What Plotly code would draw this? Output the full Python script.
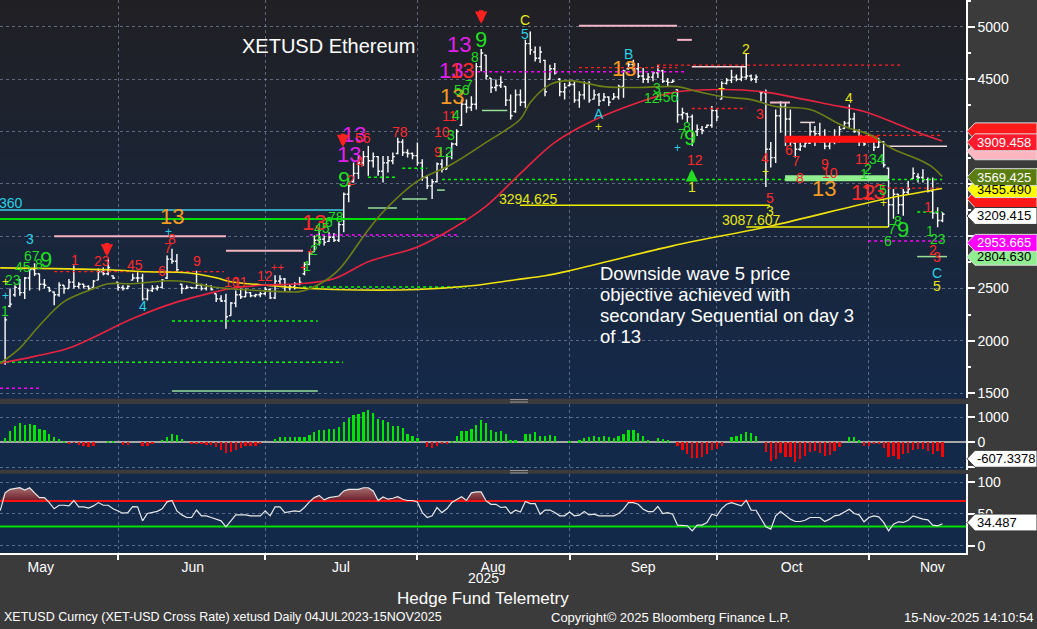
import pandas as pd
import plotly.graph_objects as go

W, H = 1037, 629

# ---------------- data ----------------
bar_dates = pd.date_range("2025-05-08", "2025-11-15", freq="D")

opens = [
    1810, 2330, 2440, 2500, 2460, 2600, 2680, 2640, 2540, 2510, 2466, 2440, 2530, 2500, 2560, 2520, 2540, 2520, 2510, 2580, 2660, 2640, 2620, 2560,
    2510, 2500, 2580, 2600, 2600, 2400, 2480, 2500, 2510, 2600, 2780, 2760, 2540, 2500, 2510, 2505, 2530, 2500, 2520, 2450, 2400, 2380, 2240, 2360, 2440, 2420, 2460, 2430, 2440, 2450,
    2490, 2410, 2570, 2590, 2510, 2515, 2545, 2640, 2730, 2850, 2960, 2970, 2950, 2990, 2960, 3110, 3400, 3520, 3600, 3700, 3760, 3720, 3760, 3620, 3700, 3720, 3790, 3900, 3800, 3790, 3770,
    3700, 3560, 3480, 3520, 3690, 3640, 3760, 3880, 4060, 4260, 4230, 4260, 4620, 4730, 4510, 4420, 4440, 4430, 4300, 4190, 4350, 4280, 4840, 4760, 4700, 4680, 4500, 4600, 4500, 4380, 4440,
    4450, 4300, 4350, 4460, 4310, 4350, 4300, 4330, 4310, 4330, 4430, 4600, 4640, 4600, 4530, 4500, 4520, 4560, 4580, 4480, 4470, 4400, 4160, 4170, 4140, 4000, 4020, 4040, 4060, 4200,
    4310, 4460, 4490, 4520, 4500, 4520, 4530, 4500, 4380, 4370, 3830, 3750, 4150, 4240, 4120, 3890, 3830, 3860, 3890, 4000, 3980, 3900, 3860, 3900, 3950, 4030, 4080, 4120, 4000, 3900, 3900,
    3930, 3850, 3900, 3650, 3300, 3400, 3300, 3420, 3550, 3570, 3560, 3540, 3430, 3220, 3150,
]
highs = [
    2230, 2500, 2530, 2590, 2610, 2700, 2740, 2640, 2590, 2515, 2470, 2560, 2530, 2590, 2720, 2560, 2545, 2530, 2580, 2690, 2700, 2780, 2625, 2560,
    2530, 2530, 2640, 2655, 2640, 2500, 2530, 2530, 2590, 2815, 2880, 2830, 2545, 2530, 2515, 2670, 2545, 2545, 2530, 2450, 2435, 2450, 2370, 2480, 2500, 2500, 2465, 2450, 2465, 2515,
    2500, 2626, 2626, 2600, 2540, 2560, 2610, 2753, 2848, 3006, 3070, 3006, 3038, 3030, 3133, 3418, 3529, 3703, 3767, 3814, 3862, 3799, 3767, 3767, 3767, 3799, 3941, 3925, 3830, 3799, 3894,
    3735, 3577, 3545, 3703, 3735, 3783, 3894, 4021, 4306, 4306, 4338, 4655, 4788, 4734, 4512, 4496, 4528, 4433, 4353, 4401, 4401, 4876, 4956, 4813, 4813, 4686, 4639, 4655, 4512, 4464, 4480,
    4480, 4385, 4480, 4480, 4401, 4369, 4369, 4338, 4369, 4448, 4591, 4670, 4686, 4655, 4607, 4560, 4575, 4639, 4591, 4512, 4496, 4401, 4227, 4179, 4163, 4068, 4052, 4068, 4243, 4211,
    4480, 4512, 4591, 4544, 4623, 4750, 4544, 4544, 4385, 4401, 3900, 4211, 4290, 4274, 4211, 3894, 3894, 3925, 4084, 4052, 4084, 4021, 3941, 4021, 4052, 4100, 4258, 4179, 4021, 3957, 3973,
    3957, 3941, 3910, 3656, 3450, 3402, 3450, 3529, 3656, 3600, 3640, 3561, 3561, 3276, 3228,
]
lows = [
    1770, 2320, 2420, 2430, 2400, 2480, 2620, 2480, 2500, 2466, 2340, 2420, 2450, 2500, 2500, 2500, 2500, 2480, 2510, 2580, 2625, 2625, 2590, 2480,
    2480, 2495, 2575, 2560, 2385, 2385, 2465, 2480, 2500, 2590, 2735, 2655, 2450, 2495, 2495, 2495, 2480, 2480, 2480, 2370, 2370, 2115, 2240, 2320, 2400, 2415, 2415, 2415, 2415, 2436,
    2400, 2400, 2540, 2470, 2480, 2490, 2531, 2626, 2721, 2848, 2911, 2911, 2943, 2943, 2943, 3038, 3323, 3513, 3545, 3672, 3577, 3656, 3577, 3513, 3609, 3688, 3783, 3767, 3751, 3735, 3672,
    3529, 3450, 3355, 3513, 3609, 3640, 3735, 3862, 4052, 4179, 4195, 4211, 4575, 4496, 4369, 4385, 4417, 4243, 4116, 4179, 4243, 4227, 4734, 4670, 4655, 4338, 4496, 4544, 4338, 4306, 4433,
    4274, 4227, 4306, 4274, 4306, 4243, 4290, 4243, 4306, 4306, 4322, 4591, 4575, 4512, 4464, 4464, 4480, 4512, 4464, 4433, 4464, 4084, 4116, 4084, 3862, 3957, 3973, 4036, 4036, 4100,
    4306, 4449, 4464, 4480, 4480, 4496, 4480, 4464, 4290, 3470, 3656, 3700, 3989, 3862, 3862, 3751, 3814, 3846, 3880, 3862, 3894, 3830, 3830, 3878, 3894, 4021, 4036, 3989, 3862, 3862, 3894,
    3814, 3846, 3656, 3085, 3165, 3212, 3196, 3402, 3545, 3513, 3513, 3418, 3165, 3085, 3133,
]
closes = [
    2200, 2350, 2510, 2460, 2600, 2680, 2640, 2540, 2530, 2480, 2440, 2530, 2500, 2560, 2520, 2540, 2520, 2500, 2570, 2660, 2640, 2700, 2600, 2510,
    2500, 2520, 2600, 2600, 2400, 2480, 2500, 2510, 2580, 2780, 2760, 2680, 2500, 2510, 2505, 2530, 2500, 2520, 2490, 2400, 2380, 2230, 2360, 2440, 2420, 2460, 2430, 2440, 2450, 2490,
    2410, 2570, 2590, 2510, 2515, 2545, 2560, 2730, 2830, 2960, 2970, 2940, 2990, 2960, 3110, 3400, 3480, 3600, 3700, 3760, 3720, 3760, 3620, 3700, 3720, 3760, 3900, 3800, 3790, 3770, 3700,
    3560, 3480, 3520, 3690, 3640, 3760, 3880, 4000, 4260, 4230, 4260, 4620, 4750, 4530, 4420, 4440, 4470, 4300, 4150, 4350, 4280, 4840, 4780, 4700, 4760, 4380, 4600, 4560, 4380, 4420, 4450,
    4300, 4350, 4460, 4300, 4350, 4290, 4330, 4280, 4330, 4430, 4580, 4640, 4600, 4530, 4500, 4520, 4560, 4580, 4480, 4470, 4480, 4160, 4180, 4140, 3900, 4020, 4010, 4060, 4200, 4140,
    4460, 4490, 4520, 4500, 4520, 4530, 4500, 4520, 4370, 3830, 3750, 4150, 4240, 4120, 3900, 3830, 3860, 3890, 4000, 3980, 3900, 3860, 3900, 3950, 4020, 4080, 4120, 4000, 3900, 3880, 3930,
    3850, 3900, 3680, 3300, 3400, 3300, 3420, 3450, 3600, 3560, 3540, 3430, 3220, 3150, 3209.415,
]

momentum = [
    173, 453, 653, 773, 707, 733, 680, 533, 480, 333, 187, 133, 53, -40, -20, -107, -147, -187, -147, 0,
    0, 53, 53, 0, -107, -107, 0, 0, -147, -147, -93, 0, 93, 213, 333, 280, 133, 0, -93, -53,
    -80, -107, -133, -213, -320, -453, -413, -307, -227, -173, -147, -147, -93, 0, 0, 107, 187, 187, 187, 187,
    187, 187, 293, 387, 493, 507, 533, 533, 613, 813, 987, 1080, 1133, 1213, 1293, 1187, 947, 907, 813, 653,
    653, 560, 333, 253, 173, 0, -200, -240, -147, -80, -53, 40, 227, 453, 453,
    533, 707, 907, 773, 507, 400, 427, 307, 67, 67, 0, 307, 333, 413, 240, 240, 267, 240, 0, 0,
    53, 0, 67, 173, 200, 240, 200, 240, 187, 147, 240, 333, 507, 507, 373, 240, 67, 0, 160, 107,
    67, 0, -173, -320, -493, -627, -627, -600, -493, -333, -293, -173, 0, 200, 240, 307, 413, 373, 227, 0,
    -387, -760, -693, -427, -600, -600, -800, -693, -560, -387, -360, -427, -560, -520, -360, -187, 0, 187, 187, 67,
    -173, -160, -80, -93, -253, -600, -560, -693, -493, -453, -320, -293, -293, -360, -493, -360, -607.3378,
]

osc_dates = pd.date_range("2025-05-07", "2025-11-15", freq="D")
oscillator = [
    55,
    83, 88.5, 90, 91, 87.5, 91, 83, 75.5, 75.5, 67.7, 58, 63.5, 63.5, 62.5, 71, 61, 61, 59, 62.5, 67.7,
    63.5, 63.5, 58, 54.7, 51, 52, 61.5, 61, 39, 50.5, 52, 54, 58, 68.8, 71, 54.7, 48.4, 44.3, 44.3, 56,
    46.9, 46.9, 44.3, 41.7, 39, 29.7, 39, 48.4, 48.4, 48.4, 46.9, 46.9, 46.9, 54.7, 46.9, 61, 61, 52, 53, 54.7,
    53.6, 60, 68.8, 75.5, 79, 72, 75.5, 76.6, 78, 86, 88.5, 88.5, 88.5, 91, 91, 86, 71, 76.6, 73, 74.5,
    77, 73, 71, 71, 68.8, 52, 44.3, 46.9, 60, 52, 58, 67.7, 73, 77, 71,
    83, 84.4, 84.4, 70.3, 65, 65, 60, 61, 50.5, 55.7, 53, 69.3, 66, 66, 49.5, 56, 56, 52, 46.9, 46.9,
    53, 46.9, 48, 53.6, 48.4, 49.5, 46.9, 46.9, 46.9, 46.9, 50.5, 57.3, 67.7, 67.7, 65, 57.3, 53.6, 53.6, 61.5, 50.5,
    52, 49.5, 32.3, 32.3, 31.3, 23.4, 32.3, 32.3, 36.5, 49.5, 46.9, 58.3, 65, 67.7, 65, 62.5, 71.4, 56, 55.7, 41.7,
    29.7, 26, 46.9, 53.6, 46.9, 41.7, 38, 38, 40, 44.3, 44.3, 44.3, 38, 41.7, 46.9, 48.4, 53, 57.3, 50.5, 48.4,
    37.5, 44.3, 46.9, 45.3, 36.5, 23.4, 33.9, 37.5, 36.5, 40, 46.9, 44.3, 41.7, 40.6, 32.3, 31.3, 34.487,
]
osc_upper, osc_lower = 70, 30

ma_short_dates = ["2025-05-08", "2025-05-12", "2025-05-16", "2025-05-21", "2025-05-27", "2025-05-30", "2025-06-04",
                  "2025-06-11", "2025-06-15", "2025-06-20", "2025-06-24", "2025-06-30", "2025-07-05", "2025-07-08",
                  "2025-07-12", "2025-07-16", "2025-07-21 16:00", "2025-07-25", "2025-08-01", "2025-08-08", "2025-08-15",
                  "2025-08-22", "2025-08-24", "2025-08-28", "2025-09-01", "2025-09-08", "2025-09-15", "2025-09-23",
                  "2025-09-27", "2025-10-02", "2025-10-08", "2025-10-13", "2025-10-20", "2025-10-27", "2025-11-01",
                  "2025-11-06", "2025-11-11", "2025-11-14", "2025-11-15 22:00"]
ma_short_vals = [1785, 1930, 2146, 2374, 2498, 2545, 2545, 2574, 2564, 2516, 2497, 2479, 2469, 2470, 2540, 2680,
                 3040, 3230, 3525, 3687, 3896, 4120, 4277, 4448, 4486, 4429, 4420, 4429, 4382, 4334, 4305, 4239,
                 4210, 4049, 3973, 3830, 3735, 3658, 3569.425]

ma_mid_dates = ["2025-05-08", "2025-05-15", "2025-05-22", "2025-06-04", "2025-06-12", "2025-06-21", "2025-06-24",
                "2025-06-30", "2025-07-08", "2025-07-15", "2025-07-22", "2025-08-01", "2025-08-08", "2025-08-15",
                "2025-08-22", "2025-08-29", "2025-09-05", "2025-09-15", "2025-09-22", "2025-10-02", "2025-10-10",
                "2025-10-17", "2025-10-24", "2025-10-31", "2025-11-06", "2025-11-11", "2025-11-15 22:00"]
ma_mid_vals = [1785, 1851, 1930, 2212, 2355, 2469, 2500, 2530, 2545, 2593, 2755, 2897, 3068, 3287, 3600, 3896,
               4087, 4277, 4372, 4401, 4382, 4324, 4258, 4191, 4087, 3991, 3909.458]

ma_long_dates = ["2025-05-08", "2025-05-30", "2025-06-07", "2025-06-15", "2025-06-21", "2025-06-24", "2025-06-30",
                 "2025-07-10", "2025-07-20", "2025-08-01", "2025-08-12", "2025-08-21", "2025-08-27", "2025-09-01",
                 "2025-09-22", "2025-10-12", "2025-10-29", "2025-11-05", "2025-11-15 22:00"]
ma_long_vals = [2697, 2678, 2659, 2650, 2602, 2564, 2536, 2500, 2485, 2490, 2526, 2583, 2621, 2669, 2907, 3097,
                3288, 3363, 3455.49]

# horizontal levels: price, start, end, kind
levels = [
    (3250, "2025-05-07 23:00", "2025-07-16 20:00", "cyan"),
    (3164, "2025-05-07 23:00", "2025-08-10 22:00", "green"),
    (2998, "2025-05-19", "2025-06-23", "pink"),
    (2860, "2025-06-23", "2025-07-08 17:00", "pink"),
    (2660, "2025-05-19", "2025-06-22 14:00", "red_dash"),
    (2189, "2025-06-12", "2025-07-11 17:00", "green_dash"),
    (1795, "2025-05-07 23:00", "2025-07-16 20:00", "green_dash"),
    (1547, "2025-05-07 23:00", "2025-05-16 12:00", "magenta_dash"),
    (1519, "2025-06-12", "2025-07-11 17:00", "pale_green"),
    (3012, "2025-07-10 02:00", "2025-08-09 12:00", "magenta_dash"),
    (2513, "2025-07-08 17:00", "2025-08-11", "green_dash"),
    (3542, "2025-08-06", "2025-11-15 22:00", "green_dash"),
    (3355, "2025-07-28 22:00", "2025-08-03", "pale_green"),
    (3269, "2025-07-21 22:00", "2025-07-27 20:00", "pale_green"),
    (3440, "2025-08-05", "2025-08-06 14:00", "pale_green"),
    (4201, "2025-08-14 04:00", "2025-08-19 08:00", "pale_green"),
    (3564, "2025-07-21 22:00", "2025-07-27 20:00", "green_dash"),
    (3650, "2025-07-28 22:00", "2025-08-03", "green_dash"),
    (3294.625, "2025-08-21 22:00", "2025-10-11 20:00", "yellow"),
    (3087.607, "2025-10-07", "2025-11-04 22:00", "yellow"),
    (5010, "2025-09-02 22:00", "2025-09-22 22:00", "pink"),
    (4876, "2025-09-22 22:00", "2025-09-25 22:00", "pink"),
    (4610, "2025-09-02 22:00", "2025-09-22 22:00", "red_dash"),
    (4634, "2025-09-18 20:00", "2025-11-07 22:00", "red_dash"),
    (4220, "2025-09-25 22:00", "2025-10-07", "red_dash"),
    (4572, "2025-08-09 12:00", "2025-09-24 22:00", "magenta_dash"),
    (4620, "2025-09-25 22:00", "2025-10-07", "pale_pink"),
    (4277, "2025-10-11 20:00", "2025-10-15 22:00", "pink"),
    (4087, "2025-10-18", "2025-10-21", "pale_pink"),
    (3858, "2025-11-04 16:00", "2025-11-16 22:00", "pale_pink"),
    (3925, "2025-10-14 22:00", "2025-11-02 20:00", "red_thick"),
    (3554, "2025-10-14 22:00", "2025-11-04 22:00", "green_thick"),
    (3963, "2025-10-30", "2025-11-15 22:00", "red_dash"),
    (3459, "2025-11-04 22:00", "2025-11-15 22:00", "red_dash"),
    (3231, "2025-11-10 20:00", "2025-11-15 22:00", "green_dash"),
    (2953.665, "2025-10-31 20:00", "2025-11-15 22:00", "magenta_dash"),
    (2804.630, "2025-11-10 20:00", "2025-11-16 22:00", "pale_green"),
]

# sequential count labels: date, price, text, kind
count_labels = [
    ("2025-05-09", 2280, "1", "g"), ("2025-05-09", 2560, "+", "y+"), ("2025-05-09", 2432, "+", "c+"),
    ("2025-05-10 14:00", 2584, "23", "g"), ("2025-05-12 14:00", 2708, "45", "g"),
    ("2025-05-14 12:00", 2810, "67", "g"), ("2025-05-16", 2735, "8", "g"), ("2025-05-17 06:00", 2774, "9", "G"),
    ("2025-05-14", 2974, "3", "c"), ("2025-05-23 06:00", 2774, "1", "r"), ("2025-05-28 18:00", 2765, "23", "r"),
    ("2025-06-04 12:00", 2727, "45", "r"), ("2025-06-06", 2337, "4", "c"), ("2025-06-10", 2670, "6", "r"),
    ("2025-06-11 06:00", 2890, "7", "r"), ("2025-06-12", 2970, "8", "r"), ("2025-06-11 06:00", 3035, "+", "c+"),
    ("2025-06-12", 3185, "13", "O"), ("2025-06-17", 2760, "9", "r"),
    ("2025-06-24 06:00", 2565, "10", "r"), ("2025-06-26", 2565, "11", "r"), ("2025-07-01", 2622, "12", "r"),
    ("2025-07-03 14:00", 2705, "++", "r+"), ("2025-07-08 16:00", 2705, "+", "r+"), ("2025-07-09 14:00", 2715, "1", "g"),
    ("2025-07-10 04:00", 2860, "+", "r+"), ("2025-07-10 20:00", 2870, "2", "g"), ("2025-07-11 20:00", 2960, "3", "g"),
    ("2025-07-11", 3130, "13", "R"), ("2025-07-12 12:00", 3080, "45", "g"), ("2025-07-14", 3136, "6", "g"),
    ("2025-07-15 12:00", 3180, "78", "g"), ("2025-07-17", 3545, "9", "G"), ("2025-07-18 12:00", 3540, "2", "r"),
    ("2025-07-18", 3783, "13", "M"), ("2025-07-19", 3975, "13", "M"), ("2025-07-20 06:00", 3706, "4", "r"),
    ("2025-07-21", 3935, "56", "r"), ("2025-07-28 12:00", 3992, "78", "r"),
    ("2025-08-05 04:00", 3802, "9", "r"), ("2025-08-06 14:00", 3800, "12", "g"), ("2025-08-06", 3992, "10", "r"),
    ("2025-08-07 18:00", 3963, "3", "g"), ("2025-08-07 12:00", 4150, "11", "r"), ("2025-08-08 20:00", 4160, "4", "g"),
    ("2025-08-08", 4334, "13", "O"), ("2025-08-10", 4401, "56", "g"), ("2025-08-11 14:00", 4448, "7", "g"),
    ("2025-08-07 18:00", 4581, "13", "M"), ("2025-08-10", 4581, "13", "R"), ("2025-08-09 12:00", 4829, "13", "M"),
    ("2025-08-12 20:00", 4715, "8", "g"), ("2025-08-14", 4876, "9", "G"),
    ("2025-08-22 22:00", 5067, "C", "y"), ("2025-08-22 22:00", 4933, "5", "c"),
    ("2025-09-12 22:00", 4740, "B", "c"), ("2025-09-12", 4600, "13", "O"),
    ("2025-09-07", 4163, "A", "c"), ("2025-09-07", 4040, "+", "y+"),
    ("2025-09-17 18:00", 4325, "12", "g"), ("2025-09-18 18:00", 4420, "3", "g"), ("2025-09-20 22:00", 4334, "456", "g"),
    ("2025-09-24", 3973, "7", "g"), ("2025-09-24 22:00", 4045, "8", "g"), ("2025-09-25 12:00", 3944, "9", "G"),
    ("2025-09-22 22:00", 3840, "+", "c+"), ("2025-09-26 14:00", 3726, "12", "r"), ("2025-09-25 22:00", 3469, "1", "y"),
    ("2025-10-02", 4410, "+", "y+"), ("2025-10-07", 4791, "2", "y"), ("2025-10-09 20:00", 4163, "3", "r"),
    ("2025-10-10 20:00", 3745, "4", "r"), ("2025-10-10 20:00", 3611, "+", "y+"), ("2025-10-11 20:00", 3364, "5", "r"),
    ("2025-10-11 20:00", 3240, "3", "y"), ("2025-10-15 18:00", 3821, "6", "r"), ("2025-10-17 02:00", 3716, "7", "r"),
    ("2025-10-18", 3554, "8", "r"), ("2025-10-23", 3687, "9", "r"), ("2025-10-24", 3602, "10", "r"),
    ("2025-10-22 20:00", 3459, "13", "O"), ("2025-10-27 22:00", 4320, "4", "y"), ("2025-10-30 18:00", 3735, "11", "r"),
    ("2025-10-31", 3592, "1", "g"), ("2025-10-31 20:00", 3640, "2", "g"), ("2025-11-02 14:00", 3735, "34", "g"),
    ("2025-10-30 18:00", 3421, "12", "R"), ("2025-11-01 18:00", 3431, "13", "R"),
    ("2025-11-03 22:00", 3440, "5", "g"), ("2025-11-03 22:00", 3317, "+", "y+"), ("2025-11-04 22:00", 2955, "6", "g"),
    ("2025-11-05 18:00", 3069, "7", "g"), ("2025-11-06 22:00", 3145, "8", "g"), ("2025-11-07 22:00", 3060, "9", "G"),
    ("2025-11-13", 3279, "1", "r"), ("2025-11-13 12:00", 3050, "1", "g"), ("2025-11-15", 2975, "23", "g"),
    ("2025-11-14 02:00", 2870, "2", "r"), ("2025-11-14 22:00", 2803, "3", "r"),
    ("2025-11-14 22:00", 2651, "C", "c"), ("2025-11-14 22:00", 2528, "5", "y"),
]

# signal arrows: date, tip price, direction
signal_arrows = [
    ("2025-05-29 18:00", 2805, "down"),
    ("2025-07-16 20:00", 3850, "down"),
    ("2025-08-14", 5030, "down"),
    ("2025-09-25 22:00", 3640, "up"),
]

# right-hand value tags: text, centre pixel row, fill, text colour (back to front)
value_tags = [
    ("", 132, "#ff1a1a", "#ffffff"),
    ("", 152, "#ffb6c1", "#000000"),
    ("3909.458", 143, "#ff1a2e", "#ffffff"),
    ("", 200, "#ff1a1a", "#ffffff"),
    ("3455.490", 190, "#ffff00", "#000000"),
    ("3569.425", 178, "#5b7d0f", "#ffffff"),
    ("3209.415", 217, "#ffffff", "#000000"),
    ("2804.630", 258, "#90ee90", "#000000"),
    ("2953.665", 244, "#ff00ff", "#ffffff"),
    ("-607.3378", 461, "#ffffff", "#000000"),
    ("34.487", 525, "#ffffff", "#000000"),
]

note_lines = ["Downside wave 5 price", "objective achieved with", "secondary Sequential on day 3", "of 13"]

month_starts = ["2025-06-01", "2025-07-01", "2025-08-01", "2025-09-01", "2025-10-01", "2025-11-01"]
month_label_pos = ["2025-05-16 06:00", "2025-06-16 06:00", "2025-07-16 10:00", "2025-08-16 10:00",
                   "2025-09-16", "2025-10-16 06:00", "2025-11-13 22:00"]
month_labels = ["May", "Jun", "Jul", "Aug", "Sep", "Oct", "Nov"]
price_ticks = [1500, 2000, 2500, 3000, 3500, 4000, 4500, 5000]
price_tick_text = ["1500", "2000", "2500", "", "", "", "4500", "5000"]

# ---------------- styles ----------------
DAY_MS = 86400000
SANS = "Liberation Sans, Arial, sans-serif"
GRID = "rgba(150,160,195,0.55)"

level_style = {
    "cyan": dict(color="#3ccfe8", width=1.5),
    "green": dict(color="#00e000", width=2),
    "pink": dict(color="#f5b5c5", width=2),
    "pale_pink": dict(color="#f0d8d8", width=1.5),
    "red_dash": dict(color="#ff2020", width=1.3, dash="3px,3px"),
    "green_dash": dict(color="#00ff00", width=1.5, dash="3px,3px"),
    "magenta_dash": dict(color="#ff00ff", width=1.5, dash="3px,3px"),
    "pale_green": dict(color="#98e098", width=1.5),
    "yellow": dict(color="#f0f000", width=1.5),
    "red_thick": dict(color="#ff1010", width=7),
    "green_thick": dict(color="#90ee90", width=6),
}
label_style = {
    "g": ("#22dd22", 14), "G": ("#22dd22", 22),
    "r": ("#ff2a2a", 14), "R": ("#ff2a2a", 22),
    "M": ("#e020e8", 22), "O": ("#f59a23", 22),
    "c": ("#2ad0e6", 14), "y": ("#e6e61a", 14),
    "y+": ("#e6e61a", 12), "c+": ("#2ad0e6", 12), "r+": ("#ff2a2a", 11),
}

# ---------------- figure ----------------
fig = go.Figure()

for price, start, end, kind in levels:
    fig.add_trace(go.Scatter(x=[start, end], y=[price, price], mode="lines", line=level_style[kind],
                             hoverinfo="skip", showlegend=False, yaxis="y"))

fig.add_trace(go.Scatter(x=ma_long_dates, y=ma_long_vals, mode="lines", line=dict(color="#f2e20c", width=1.6),
                         line_shape="spline", hoverinfo="skip", showlegend=False, yaxis="y"))
fig.add_trace(go.Scatter(x=ma_mid_dates, y=ma_mid_vals, mode="lines", line=dict(color="#e8233f", width=1.6),
                         line_shape="spline", hoverinfo="skip", showlegend=False, yaxis="y"))
fig.add_trace(go.Scatter(x=ma_short_dates, y=ma_short_vals, mode="lines", line=dict(color="#6e7f16", width=1.6),
                         line_shape="spline", hoverinfo="skip", showlegend=False, yaxis="y"))

fig.add_trace(go.Ohlc(x=bar_dates, open=opens, high=highs, low=lows, close=closes,
                      xperiod=DAY_MS, xperiodalignment="end", tickwidth=0.4,
                      increasing=dict(line=dict(color="#ffffff", width=1.4)),
                      decreasing=dict(line=dict(color="#ffffff", width=1.4)),
                      showlegend=False, yaxis="y"))

fig.add_trace(go.Bar(x=bar_dates, y=momentum, xperiod=DAY_MS, xperiodalignment="end",
                     width=0.47 * DAY_MS,
                     marker=dict(color=["#00e600" if v >= 0 else "#ff0000" for v in momentum], line=dict(width=0)),
                     showlegend=False, yaxis="y2"))

fig.add_trace(go.Scatter(x=osc_dates, y=[osc_upper] * len(osc_dates), xperiod=DAY_MS, xperiodalignment="end",
                         mode="lines", line=dict(width=0, color="rgba(0,0,0,0)"), hoverinfo="skip",
                         showlegend=False, yaxis="y3"))
fig.add_trace(go.Scatter(x=osc_dates, y=[max(v, osc_upper) for v in oscillator], xperiod=DAY_MS,
                         xperiodalignment="end", mode="lines", line=dict(width=0, color="rgba(0,0,0,0)"),
                         fill="tonexty",
                         fillgradient=dict(type="vertical", start=osc_upper, stop=95,
                                           colorscale=[[0, "#6a1c28"], [1, "#b07a7a"]]),
                         hoverinfo="skip", showlegend=False, yaxis="y3"))
fig.add_trace(go.Scatter(x=[osc_dates[0], osc_dates[-1] + pd.Timedelta(days=6)], y=[osc_upper, osc_upper],
                         mode="lines", line=dict(color="#ff1010", width=2), hoverinfo="skip",
                         showlegend=False, yaxis="y3"))
fig.add_trace(go.Scatter(x=[osc_dates[0], osc_dates[-1] + pd.Timedelta(days=6)], y=[osc_lower, osc_lower],
                         mode="lines", line=dict(color="#00e000", width=2), hoverinfo="skip",
                         showlegend=False, yaxis="y3"))
fig.add_trace(go.Scatter(x=osc_dates, y=oscillator, xperiod=DAY_MS, xperiodalignment="end", mode="lines",
                         line=dict(color="#e8e8e8", width=1.2), hoverinfo="skip", showlegend=False, yaxis="y3"))

# ---------------- shapes ----------------
shapes = []
top_rgb, bot_rgb = (32, 32, 36), (20, 41, 73)
n_bands = 50
for k in range(n_bands):
    t = k / (n_bands - 1)
    col = tuple(round(top_rgb[j] + (bot_rgb[j] - top_rgb[j]) * t) for j in range(3))
    y0 = k * 400 / n_bands
    y1 = (k + 1) * 400 / n_bands + 0.6
    shapes.append(dict(type="rect", xref="paper", yref="paper", x0=0, x1=966 / W,
                       y0=1 - y1 / H, y1=1 - y0 / H, fillcolor="rgb(%d,%d,%d)" % col,
                       line=dict(width=0), layer="below"))
for y0, y1 in [(406, 472), (476, 556)]:
    shapes.append(dict(type="rect", xref="paper", yref="paper", x0=0, x1=966 / W,
                       y0=1 - y1 / H, y1=1 - y0 / H, fillcolor="#12294a", line=dict(width=0), layer="below"))
for yy in (401.5, 404, 472.8, 475.2):
    shapes.append(dict(type="line", xref="paper", yref="paper", x0=510 / W, x1=528 / W,
                       y0=1 - yy / H, y1=1 - yy / H, line=dict(color="#9a9a9a", width=1), layer="above"))

for text, yc, fill, fg in value_tags:
    h = 17
    tip, body, right = 967, 975, 1037
    path = "M {a},{b} L {c},{d} L {e},{d} L {e},{f} L {c},{f} Z".format(
        a=tip / W, b=1 - yc / H, c=body / W, d=1 - (yc - h / 2) / H, e=right / W, f=1 - (yc + h / 2) / H)
    shapes.append(dict(type="path", xref="paper", yref="paper", path=path, fillcolor=fill,
                       line=dict(color="#333333" if fill == "#ffffff" else "#dddddd", width=1), layer="above"))

# ---------------- annotations ----------------
ann = []
for d, p, text, kind in count_labels:
    col, size = label_style[kind]
    ann.append(dict(x=d, y=p, xref="x", yref="y", text=text, showarrow=False,
                    font=dict(color=col, size=size, family=SANS), xanchor="center", yanchor="middle"))
for d, p, direction in signal_arrows:
    up = direction == "up"
    ann.append(dict(x=d, y=p, xref="x", yref="y", text="", showarrow=True, arrowhead=2, arrowsize=0.55,
                    arrowwidth=4.5, arrowcolor="#22dd22" if up else "#ff2020", ax=0, ay=13 if up else -15))

ann.append(dict(x=497 / W, y=3294.625 + 60, xref="paper", yref="y", text="3294.625", showarrow=False,
                xanchor="left", yanchor="middle", font=dict(color="#e6e61a", size=14, family=SANS)))
ann.append(dict(x=720 / W, y=3087.607 + 70, xref="paper", yref="y", text="3087.607", showarrow=False,
                xanchor="left", yanchor="middle", font=dict(color="#e6e61a", size=14, family=SANS)))
ann.append(dict(x=25 / W, y=1 - 204 / H, xref="paper", yref="paper", text="3321.360", showarrow=False,
                xanchor="right", yanchor="middle", font=dict(color="#2ad0e6", size=14, family=SANS)))

ann.append(dict(x=240 / W, y=1 - 46 / H, xref="paper", yref="paper", text="XETUSD Ethereum", showarrow=False,
                xanchor="left", yanchor="middle", font=dict(color="#ffffff", size=20, family=SANS)))
for k, line in enumerate(note_lines):
    ann.append(dict(x=598 / W, y=1 - (275 + 21 * k) / H, xref="paper", yref="paper", text=line,
                    showarrow=False, xanchor="left", yanchor="middle",
                    font=dict(color="#ffffff", size=18.5, family=SANS)))

for text, yc, fill, fg in value_tags:
    if text:
        ann.append(dict(x=975 / W, y=1 - yc / H, xref="paper", yref="paper", text=text, showarrow=False,
                        xanchor="left", yanchor="middle", font=dict(color=fg, size=13, family=SANS)))

ann.append(dict(x=483 / W, y=1 - 581 / H, xref="paper", yref="paper", text="2025", showarrow=False,
                xanchor="center", yanchor="middle", font=dict(color="#ffffff", size=14, family=SANS)))
ann.append(dict(x=483 / W, y=1 - 601 / H, xref="paper", yref="paper", text="Hedge Fund Telemetry", showarrow=False,
                xanchor="center", yanchor="middle", font=dict(color="#ffffff", size=17, family=SANS)))
ann.append(dict(x=2 / W, y=1 - 620 / H, xref="paper", yref="paper",
                text="XETUSD Curncy (XET-USD Cross Rate) xetusd Daily 04JUL2023-15NOV2025", showarrow=False,
                xanchor="left", yanchor="middle", font=dict(color="#ffffff", size=12.5, family=SANS)))
ann.append(dict(x=670 / W, y=1 - 620 / H, xref="paper", yref="paper",
                text="Copyright© 2025 Bloomberg Finance L.P.", showarrow=False,
                xanchor="center", yanchor="middle", font=dict(color="#ffffff", size=13, family=SANS)))
ann.append(dict(x=1035 / W, y=1 - 620 / H, xref="paper", yref="paper", text="15-Nov-2025 14:10:54",
                showarrow=False, xanchor="right", yanchor="middle", font=dict(color="#ffffff", size=13, family=SANS)))

# ---------------- layout ----------------
tickfont = dict(color="#ffffff", size=14, family=SANS)
common_y = dict(side="right", anchor="x", showline=True, linecolor="#ffffff", linewidth=1.5,
                ticks="outside", ticklen=7, tickwidth=2, tickcolor="#ffffff", tickfont=tickfont,
                showgrid=True, gridcolor=GRID, griddash="dot", gridwidth=1, fixedrange=True)

fig.update_layout(
    width=W, height=H, margin=dict(l=0, r=0, t=0, b=0),
    paper_bgcolor="#3b3b3b", plot_bgcolor="rgba(0,0,0,0)",
    showlegend=False, bargap=0,
    xaxis=dict(domain=[0, 966 / W], anchor="y3", type="date",
               range=["2025-05-07 23:00", "2025-11-20 18:40"],
               tickmode="array", tickvals=month_label_pos, ticktext=month_labels, ticks="",
               tickfont=dict(color="#ffffff", size=14, family=SANS), showgrid=False,
               minor=dict(tickmode="array", tickvals=month_starts, showgrid=True, gridcolor=GRID,
                          griddash="dot", ticks="outside", ticklen=5, tickcolor="#ffffff", tickwidth=1.5),
               showline=True, linecolor="#ffffff", linewidth=1.5, rangeslider=dict(visible=False),
               zeroline=False),
    yaxis=dict(domain=[1 - 400 / H, 1], range=[1452, 5257], tickmode="array", tickvals=price_ticks,
               ticktext=price_tick_text,
               minor=dict(dtick=250, ticks="outside", ticklen=3, tickcolor="#ffffff", showgrid=False),
               zeroline=False, **common_y),
    yaxis2=dict(domain=[1 - 472 / H, 1 - 406 / H], range=[-1108, 1532], tickmode="array",
                tickvals=[-1000, 0, 1000], ticktext=["", "0", "1000"],
                zeroline=True, zerolinecolor="#a8a8a8", zerolinewidth=1.5, **common_y),
    yaxis3=dict(domain=[1 - 556 / H, 1 - 476 / H], range=[-12, 113], tickmode="array",
                tickvals=[0, 50, 100], zeroline=False, **common_y),
    shapes=shapes, annotations=ann,
)

fig.write_html("out.html")
